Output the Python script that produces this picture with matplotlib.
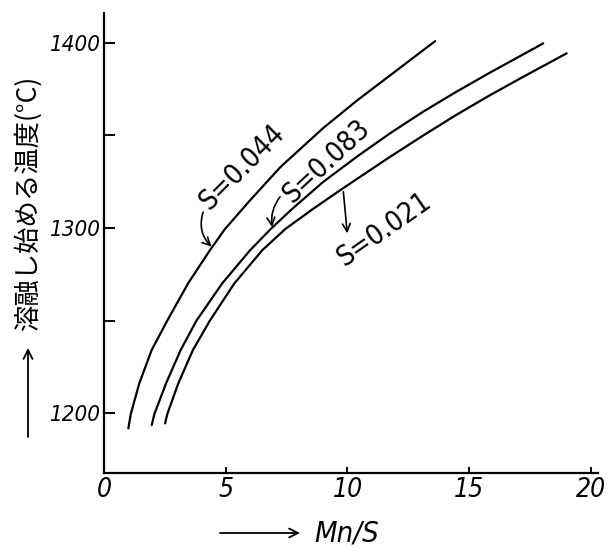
import matplotlib
matplotlib.use("Agg")
import matplotlib.pyplot as plt
from matplotlib.patches import FancyArrowPatch

# ---- data (Mn/S vs. temperature at which melting starts) ----
mns_s044 = [1.00, 1.10, 1.45, 1.96, 2.60, 3.45, 4.35, 4.97, 6.00, 7.25, 9.00, 10.40, 11.80, 13.60]
temp_s044 = [1191.7, 1199.5, 1216.1, 1234.1, 1250.0, 1270.0, 1288.0, 1299.5, 1315.0, 1333.0,
             1354.0, 1369.0, 1383.0, 1401.0]

mns_s083 = [1.96, 2.07, 2.55, 3.15, 3.80, 4.85, 6.00, 6.85, 7.70, 9.01, 10.38, 11.75, 13.11,
            14.48, 15.80, 18.04]
temp_s083 = [1193.5, 1199.5, 1216.1, 1234.1, 1250.0, 1270.0, 1288.0, 1299.5, 1310.0, 1325.0,
             1338.5, 1351.2, 1362.9, 1373.7, 1383.6, 1399.8]

mns_s021 = [2.51, 2.60, 3.05, 3.65, 4.35, 5.35, 6.50, 7.45, 8.55, 9.65, 11.75, 13.05, 14.40,
            15.80, 17.20, 19.00]
temp_s021 = [1194.4, 1199.5, 1216.0, 1234.0, 1250.0, 1270.0, 1288.0, 1299.5, 1310.0, 1320.0,
             1338.5, 1349.5, 1360.6, 1371.4, 1381.6, 1394.4]

series_labels = ["S=0.044", "S=0.083", "S=0.021"]
x_ticks = [0, 5, 10, 15, 20]
x_tick_labels = ["0", "5", "10", "15", "20"]
y_ticks = [1200, 1300, 1400]
y_tick_labels = ["1200", "1300", "1400"]
y_minor_ticks = [1250, 1350]
x_label = "Mn/S"
y_label = "溶融し始める温度(°C)"

NUMF = ["DejaVu Sans"]
CJK = ["Noto Sans CJK JP", "DejaVu Sans"]

fig = plt.figure(figsize=(6.15, 5.49), dpi=100)
ax = fig.add_axes([104 / 615, 76 / 549, 494.3 / 615, 460 / 549])
ax.set_xlim(0, 20.3)
ax.set_ylim(1167.6, 1416.2)

for xs, ys in [(mns_s044, temp_s044), (mns_s083, temp_s083), (mns_s021, temp_s021)]:
    ax.plot(xs, ys, color="black", lw=1.6, solid_capstyle="round", solid_joinstyle="round")

for side in ["top", "right"]:
    ax.spines[side].set_visible(False)
for side in ["left", "bottom"]:
    ax.spines[side].set_linewidth(1.6)

ax.set_xticks(x_ticks)
ax.set_xticklabels(x_tick_labels, fontfamily=NUMF, fontstyle="italic",
                   fontstretch="condensed", fontsize=19)
ax.set_yticks(y_ticks)
ax.set_yticklabels(y_tick_labels, fontfamily=NUMF, fontstyle="italic",
                   fontstretch="condensed", fontsize=16)
ax.set_yticks(y_minor_ticks, minor=True)
ax.tick_params(axis="y", which="both", direction="in", length=8, width=1.4, pad=3)
ax.tick_params(axis="x", which="both", direction="in", length=4, width=1.4, pad=3)

# curve annotations
txt_kw = dict(fontfamily=NUMF, fontstretch="condensed", fontsize=20, ha="center",
              va="center", rotation_mode="anchor")
ax.text(5.67, 1333, series_labels[0], rotation=45, **txt_kw)
ax.text(9.15, 1335.8, series_labels[1], rotation=43, **txt_kw)
ax.text(11.5, 1299, series_labels[2], rotation=35, **txt_kw)

arr_kw = dict(arrowstyle="->", lw=1.2, color="black", shrinkA=0, shrinkB=0,
              mutation_scale=14)
ax.annotate("", xy=(4.42, 1289.9), xytext=(4.07, 1308.6),
            arrowprops=dict(connectionstyle="arc3,rad=0.3", **arr_kw))
ax.annotate("", xy=(6.9, 1300.5), xytext=(7.23, 1316.9),
            arrowprops=dict(connectionstyle="arc3,rad=0.2", **arr_kw))
ax.annotate("", xy=(9.99, 1297.1), xytext=(9.83, 1319.6),
            arrowprops=dict(connectionstyle="arc3,rad=0.0", **arr_kw))

# axis labels with arrows
fig.text(28 / 615, (549 - 203.5) / 549, y_label, rotation=90, fontfamily=CJK,
         fontsize=19, ha="center", va="center")
fig.add_artist(FancyArrowPatch(
    (28, 112), (28, 201), transform=None, arrowstyle="->", lw=1.3,
    color="black", mutation_scale=16, shrinkA=0, shrinkB=0))
fig.text(314 / 615, 16 / 549, x_label, fontfamily=NUMF, fontstyle="italic",
         fontstretch="condensed", fontsize=21, ha="left", va="center")
fig.add_artist(FancyArrowPatch(
    (220, 16), (300, 16), transform=None, arrowstyle="->", lw=1.3,
    color="black", mutation_scale=16, shrinkA=0, shrinkB=0))

fig.savefig("out.png", dpi=100)
